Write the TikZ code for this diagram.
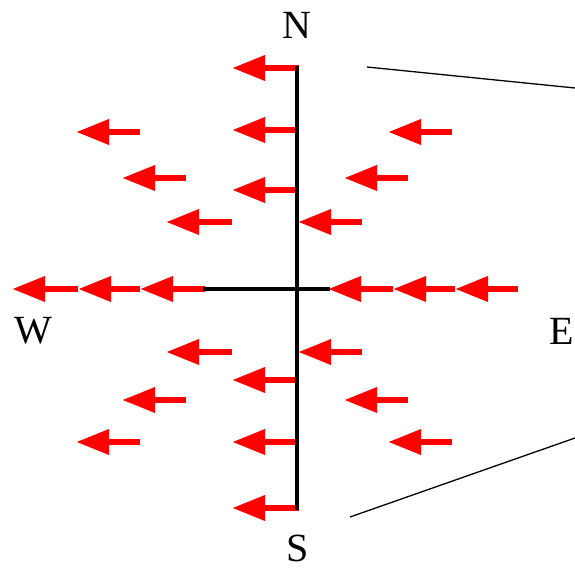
\documentclass[tikz,border=0pt]{standalone}
\usepackage{fontspec}
\setmainfont{Liberation Serif}
\usetikzlibrary{arrows.meta}
\begin{document}
\begin{tikzpicture}[x=1pt,y=-1pt,
  field/.style={draw=red,line width=6.5pt,-{Triangle[length=33pt,width=24pt]}},
  axis/.style={draw=black,line width=4pt},
  guide/.style={draw=black,line width=1.3pt},
  dirlabel/.style={inner sep=0pt,font=\fontsize{40}{48}\selectfont}]
\useasboundingbox (0,0) rectangle (575,570);
% field arrows
\foreach \y in {68,130,190,380,442,508} \draw[field] (299,\y) -- (232,\y);
\foreach \y in {222,352} \draw[field] (362,\y) -- (298,\y);
\foreach \y in {132,442} {\draw[field] (140,\y) -- (76,\y); \draw[field] (452,\y) -- (388,\y);}
\foreach \y in {178,400} {\draw[field] (186,\y) -- (122,\y); \draw[field] (408,\y) -- (344,\y);}
\foreach \y in {222,352} \draw[field] (232,\y) -- (166,\y);
\draw[field] (205,289) -- (140,289);
\draw[field] (140,289) -- (78,289);
\draw[field] (78,289) -- (12,289);
\draw[field] (518,289) -- (455,289);
\draw[field] (455,289) -- (393,289);
\draw[field] (393,289) -- (328,289);
% axes
\coordinate (ntop) at (297,66);
\coordinate (sbot) at (297,510);
\coordinate (wend) at (203,289);
\coordinate (eend) at (330,289);
\draw[axis] (ntop) -- (sbot);
\draw[axis] (wend) -- (eend);
% guide lines
\coordinate (g1a) at (367,67);
\coordinate (g1b) at (575,88);
\coordinate (g2a) at (350,517);
\coordinate (g2b) at (575,438);
\draw[guide] (g1a) -- (g1b);
\draw[guide] (g2a) -- (g2b);
% labels
\node[dirlabel] (N) at (297,25) {N};
\node[dirlabel] (W) at (33,331) {W};
\node[dirlabel] (E) at (562,331) {E};
\node[dirlabel] (S) at (298,548) {S};
\end{tikzpicture}
\end{document}
